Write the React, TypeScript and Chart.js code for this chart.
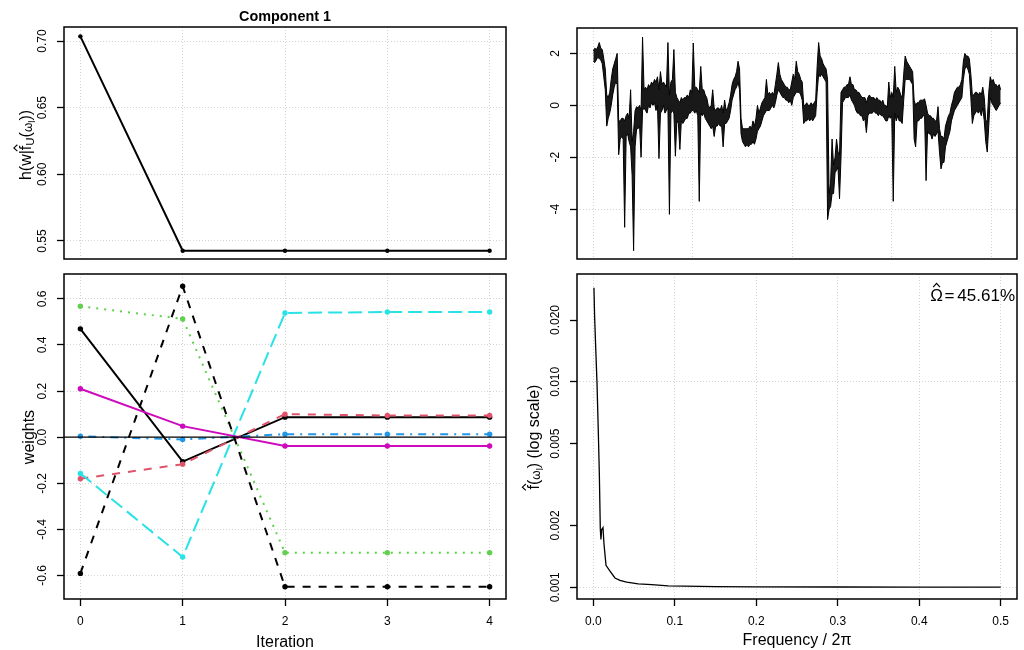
import React, { useEffect, useRef } from 'react';
import { Chart, registerables } from 'chart.js';

Chart.register(...registerables);

const FONT = "'Liberation Sans', Arial, Helvetica, sans-serif";
const GRID = '#d3d3d3';
const W = 1024;
const H = 650;

// ---------- Top-left: criterion by iteration ----------
const iterations = [0, 1, 2, 3, 4];
const criterion = [0.7035, 0.5427, 0.5427, 0.5427, 0.5427];
const criterionTicks = [0.55, 0.6, 0.65, 0.7];

// ---------- Bottom-left: weights by iteration ----------
const weightSeries = [
  [0.47, -0.106, 0.087, 0.087, 0.087],
  [-0.18, -0.117, 0.1, 0.094, 0.094],
  [0.568, 0.513, -0.501, -0.501, -0.501],
  [0.004, -0.01, 0.013, 0.013, 0.013],
  [-0.157, -0.52, 0.539, 0.543, 0.543],
  [0.21, 0.048, -0.038, -0.038, -0.038],
  [-0.591, 0.655, -0.649, -0.649, -0.649],
];
const weightColors = ['#000000', '#DF536B', '#61D04F', '#2297E6', '#28E2E5', '#CD0BBC', '#000000'];
const weightDashes = [[], [8, 8], [2, 6], [2, 6, 8, 6], [14, 6], [], [8, 8]];
const weightTicks = [-0.6, -0.4, -0.2, 0, 0.2, 0.4, 0.6];

// ---------- Top-right: time series, upper / lower envelope every 15 steps ----------
const tsStep = 15;
const tsHigh = [
  2.1, 2.2, 2.15, 2.25, 2.42, 2.2, 2.15, 1.8, 1.4, 0.4,
  0.3, 0.5, 1.0, 1.4, 1.6, 1.8, 2.0, -0.6, -0.6, -0.5,
  -0.5, -0.6, -0.4, -0.3, -0.5, 0.6, -1.4, -1.0, -0.2, -0.05,
  -0.1, 0.0, -0.2, 2.63, 0.6, 0.7, 0.6, 0.8, 0.7, 0.9,
  0.8, 1.0, 0.9, 1.1, 0.6, 1.3, 0.8, 0.9, 0.8, 0.7,
  2.42, 0.4, 0.9, 1.0, 2.15, 0.5, 0.3, 0.2, 0.1, 0.3,
  0.2, 0.3, 0.3, 0.4, 0.3, 0.6, 0.5, 2.4, 0.7, 0.7,
  0.6, 0.5, 1.5, 0.6, 0.6, 0.4, 0.3, 0.0, -0.1, 0.0,
  0.6, -0.1, -0.2, -0.1, -0.1, -0.2, 0.0, -0.3, 0.2, -0.2,
  -0.1, 0.1, 0.4, 0.8, 1.0, 1.1, 1.3, 1.7, 1.4, -0.5,
  -0.9, -0.9, -0.9, -0.9, -0.9, -0.8, -0.9, -0.6, -0.8, -0.5,
  0.0, -0.3, -0.1, 0.1, 0.2, 0.3, 1.0, 0.4, 0.5, 0.4,
  0.5, 0.4, 0.8, 1.2, 1.65, 1.2, 1.0, 0.9, 0.8, 0.7,
  0.7, 0.6, 0.6, 0.9, 1.2, 1.0, 1.7, 1.3, 1.2, 1.0,
  0.9, 0.0, 0.0, 0.1, 0.0, 0.0, 0.1, 0.0, 0.1, 0.2,
  1.5, 2.42, 1.9, 1.8, 1.6, 1.5, 1.4, 1.0, -3.4, -3.0,
  -1.3, -2.3, -2.0, -1.3, -1.8, -1.9, 0.5, 0.6, 0.7, 0.7,
  0.8, 0.8, 1.1, 0.8, 0.8, 0.6, 0.6, 0.5, 0.5, 0.4,
  0.3, 0.3, 0.3, 0.1, 0.3, 0.4, 0.3, 0.3, 0.3, 0.2,
  0.3, 0.2, 0.2, 0.1, 0.2, 0.0, 0.0, -0.1, 0.9, 0.3,
  0.5, 0.3, 1.5, 0.5, 0.7, 0.6, 0.4, 0.3, 1.2, 1.9,
  1.7, 1.6, 1.5, 1.4, 1.3, 0.2, 0.0, 0.1, 0.1, 0.2,
  0.2, 0.2, 0.25, 0.0, -0.3, -0.4, -0.4, -0.5, -0.5, -0.6,
  -0.6, -0.05, -0.9, -1.2, -1.2, -1.3, -0.8, -0.6, -0.4, -0.3,
  0.0, 0.2, 0.5, 0.6, 0.7, 0.7, 0.8, 1.0, 1.7, 2.0,
  1.9, 1.9, 1.8, 1.2, 0.4, 0.4, 0.5, 0.5, 0.4, 0.5,
  0.4, 0.7, 0.3, -0.6, -0.6, 0.5, 1.1, 0.9, 1.0, 0.8,
  0.8, 0.7, 0.8, 0.6,
];
const tsLow = [
  1.7, 1.65, 1.75, 1.85, 1.8, 1.75, 1.6, 1.1, 0.6, -0.8,
  -0.5, -0.3, 0.0, 0.4, 0.7, 0.9, 0.8, -1.9, -1.3, -1.2,
  -1.3, -4.7, -1.2, -1.1, -1.4, -1.6, -2.7, -5.6, -1.6, -0.9,
  -0.9, -0.8, -2.0, -0.2, -0.1, -0.2, -0.3, 0.0, -0.1, 0.1,
  0.0, 0.1, -0.2, 0.0, -2.05, -0.3, -0.2, 0.0, -0.3, -0.2,
  -0.1, -4.2, -0.3, -0.2, -0.3, -1.96, -0.6, -0.7, -1.7, -0.6,
  -0.7, -0.6, -0.5, -0.5, -0.3, -0.3, -0.2, -0.2, -0.3, -0.2,
  -0.4, -3.7, -0.3, -0.4, -0.3, -0.5, -0.6, -0.7, -0.8, -0.9,
  -0.8, -1.2, -0.8, -0.8, -0.7, -0.8, -0.8, -1.6, -0.7, -0.7,
  -0.6, -0.5, -0.2, 0.2, 0.4, 0.6, 0.7, 0.9, 0.6, -1.1,
  -1.4, -1.5, -1.6, -1.5, -1.6, -1.5, -1.5, -1.4, -1.5, -1.3,
  -1.0, -0.9, -0.8, -0.6, -0.4, -0.3, -0.2, -0.2, -0.2, -0.1,
  0.0, -0.1, 0.1, 0.4, 0.6, 0.5, 0.4, 0.3, 0.3, 0.2,
  0.2, 0.1, 0.2, 0.0, 0.3, 0.4, 0.5, 0.5, 0.5, 0.4,
  0.2, -0.7, -0.6, -0.6, -0.5, -0.6, -0.5, -0.6, -0.5, -0.4,
  0.5, 1.2, 1.1, 1.2, 1.1, 1.0, 0.9, -4.4, -4.0, -3.9,
  -3.4, -3.4, -2.6, -2.5, -2.4, -3.6, -2.0, 0.1, 0.2, 0.3,
  0.3, 0.3, 0.4, 0.2, 0.1, 0.0, -0.2, -0.3, -0.3, -0.4,
  -0.4, -0.6, -0.5, -1.05, -0.4, -0.3, -0.3, -0.3, -0.2, -0.3,
  -0.3, -0.4, -0.3, -0.4, -0.4, -0.5, -0.6, -0.6, -0.4, -0.5,
  -0.4, -3.7, -0.3, -0.6, -0.4, -0.6, -0.6, -0.7, 0.2, 1.0,
  1.0, 1.0, 1.0, 0.9, 0.8, -1.3, -1.6, -0.6, -0.6, -0.5,
  -0.5, -0.4, -0.4, -2.9, -1.0, -1.1, -1.1, -1.3, -1.1, -1.2,
  -1.1, -1.0, -1.8, -2.45, -2.2, -2.2, -1.6, -1.4, -1.2, -1.0,
  -0.6, -0.4, -0.2, -0.1, 0.0, 0.1, 0.2, 0.3, 1.0, 1.4,
  1.5, 1.4, 1.2, 0.3, -0.7, -0.4, -0.3, -0.2, -0.3, -0.2,
  -0.4, -0.1, -0.6, -1.4, -1.8, -0.8, 0.3, 0.1, 0.0, -0.1,
  -0.2, -0.1, 0.0, 0.1,
];
const tsTicksX = [0, 1000, 2000, 3000, 4000];
const tsTicksY = [-4, -2, 0, 2];

// ---------- Bottom-right: spectrum (log scale) ----------
const specFreq = [0.0008, 0.0016, 0.0029, 0.0045, 0.0061, 0.0074, 0.0086, 0.0094, 0.0102, 0.0119, 0.0131, 0.0156, 0.0205, 0.0266, 0.0327, 0.0409, 0.0552, 0.0716, 0.092, 0.15, 0.2, 0.3, 0.4, 0.5];
const specValue = [0.0287, 0.0209, 0.0149, 0.01, 0.00583, 0.00359, 0.00193, 0.00171, 0.0019, 0.00195, 0.00163, 0.00128, 0.0012, 0.00111, 0.00108, 0.00106, 0.00104, 0.00103, 0.001017, 0.001008, 0.001005, 0.001003, 0.001002, 0.001002];
const specTicksX = [0, 0.1, 0.2, 0.3, 0.4, 0.5];
const specTicksY = [0.001, 0.002, 0.005, 0.01, 0.02];
const specGridY = [0.001, 0.01];
const omegaText = '45.61%';

// ---------- layout helpers ----------
type Box = { l: number; t: number; r: number; b: number };
const Y_W = 40;
const X_H = 40;
const boxTL: Box = { l: 64, t: 27, r: 506, b: 259 };
const boxBL: Box = { l: 64, t: 274, r: 506, b: 599 };
const boxTR: Box = { l: 577, t: 28, r: 1017, b: 259 };
const boxBR: Box = { l: 577, t: 274, r: 1017, b: 599 };

function pad(box: Box, hasX: boolean) {
  return { left: box.l - Y_W, top: box.t, right: W - box.r, bottom: H - box.b - (hasX ? X_H : 0) };
}

function labelPad(labels: string[]) {
  const c = document.createElement('canvas').getContext('2d')!;
  c.font = `12px ${FONT}`;
  const w = Math.max(...labels.map((l) => c.measureText(l).width));
  return 14 - w / 2;
}

function xAxis(min: number, max: number, ticks: number[], fmt: (v: number) => string, show: boolean, type = 'linear') {
  return {
    type, min, max, bounds: 'data',
    afterBuildTicks: (s: any) => { s.ticks = ticks.map((v) => ({ value: v })); },
    afterFit: (s: any) => { s.height = show ? X_H : 0; },
    ticks: { display: show, callback: (v: any) => fmt(Number(v)), maxRotation: 0, minRotation: 0, padding: 8, font: { family: FONT, size: 12 }, color: '#000', autoSkip: false },
    grid: { color: GRID, lineWidth: 1, drawTicks: show, tickLength: 7, tickColor: '#000', tickWidth: 1.3, tickBorderDash: [] },
    border: { display: false, dash: [1, 2] },
  };
}

function yAxis(min: number, max: number, ticks: number[], fmt: (v: number) => string, type = 'linear', gridAt?: number[]) {
  const labels = ticks.map(fmt);
  return {
    type, min, max, bounds: 'data',
    afterBuildTicks: (s: any) => { s.ticks = ticks.map((v) => ({ value: v })); },
    afterFit: (s: any) => { s.width = Y_W; },
    ticks: { callback: (v: any) => fmt(Number(v)), minRotation: 90, maxRotation: 90, crossAlign: 'center', padding: labelPad(labels), font: { family: FONT, size: 12 }, color: '#000', autoSkip: false },
    grid: {
      color: (ctx: any) => (!gridAt || gridAt.some((g) => Math.abs(g - ctx.tick?.value) < 1e-9) ? GRID : 'rgba(0,0,0,0)'),
      lineWidth: 1, drawTicks: true, tickLength: 7, tickColor: '#000', tickWidth: 1.3, tickBorderDash: [],
    },
    border: { display: false, dash: [1, 2] },
  };
}

// ---------- text with simple math ----------
type Seg = { t: string; s?: number; dy?: number; hat?: boolean; gap?: number };
type Label = { segs: Seg[]; x: number; y: number; rot?: number; size: number; align?: 'left' | 'center' | 'right'; bold?: boolean };

function drawMath(ctx: CanvasRenderingContext2D, L: Label) {
  ctx.save();
  ctx.translate(L.x, L.y);
  if (L.rot) ctx.rotate(L.rot);
  ctx.fillStyle = '#000';
  ctx.strokeStyle = '#000';
  ctx.setLineDash([]);
  ctx.textBaseline = 'alphabetic';
  ctx.textAlign = 'left';
  const fontFor = (sg: Seg) => `${L.bold ? 'bold ' : ''}${(sg.s ?? 1) * L.size}px ${FONT}`;
  const widths = L.segs.map((sg) => { ctx.font = fontFor(sg); return ctx.measureText(sg.t).width + (sg.gap ?? 0); });
  const total = widths.reduce((a, b) => a + b, 0);
  let x = L.align === 'left' ? 0 : L.align === 'right' ? -total : -total / 2;
  L.segs.forEach((sg, i) => {
    ctx.font = fontFor(sg);
    const dy = sg.dy ?? 0;
    ctx.fillText(sg.t, x, dy);
    if (sg.hat) {
      const size = (sg.s ?? 1) * L.size;
      const w = ctx.measureText(sg.t).width;
      const cx = x + w / 2;
      const base = dy - size * 0.82;
      const hw = size * 0.2;
      const hh = size * 0.22;
      ctx.lineWidth = Math.max(1, size * 0.07);
      ctx.beginPath();
      ctx.moveTo(cx - hw, base);
      ctx.lineTo(cx, base - hh);
      ctx.lineTo(cx + hw, base);
      ctx.stroke();
    }
    x += widths[i];
  });
  ctx.restore();
}

const framePlugin = {
  id: 'frame',
  afterDraw(chart: any) {
    const { ctx, chartArea: a } = chart;
    ctx.save();
    ctx.setLineDash([]);
    ctx.strokeStyle = '#000';
    ctx.lineWidth = 1.5;
    ctx.strokeRect(a.left, a.top, a.right - a.left, a.bottom - a.top);
    ctx.restore();
  },
};

function labelsPlugin(labels: Label[]) {
  return {
    id: 'labels',
    afterDraw(chart: any) {
      labels.forEach((L) => drawMath(chart.ctx, L));
    },
  };
}

const zeroLinePlugin = {
  id: 'zeroLine',
  afterDatasetsDraw(chart: any) {
    const { ctx, chartArea: a, scales } = chart;
    const y = scales.y.getPixelForValue(0);
    ctx.save();
    ctx.setLineDash([]);
    ctx.strokeStyle = '#000';
    ctx.lineWidth = 1.3;
    ctx.beginPath();
    ctx.moveTo(a.left, y);
    ctx.lineTo(a.right, y);
    ctx.stroke();
    ctx.restore();
  },
};

const baseOptions = (padding: any, scales: any) => ({
  responsive: false,
  animation: false,
  events: [],
  layout: { padding },
  plugins: { legend: { display: false }, tooltip: { enabled: false }, title: { display: false } },
  elements: { line: { tension: 0 } },
  scales,
});

const fmtInt = (v: number) => String(Math.round(v));

function cfgTL(): any {
  return {
    type: 'line',
    data: {
      datasets: [{
        data: iterations.map((x, i) => ({ x, y: criterion[i] })),
        borderColor: '#000', backgroundColor: '#000', borderWidth: 2,
        pointRadius: 2.2, pointBorderWidth: 0, pointBackgroundColor: '#000',
      }],
    },
    options: baseOptions(pad(boxTL, false), {
      x: xAxis(-0.16, 4.16, iterations, fmtInt, false),
      y: yAxis(0.5365, 0.7105, criterionTicks, (v) => v.toFixed(2)),
    }),
    plugins: [framePlugin, labelsPlugin([
      { segs: [{ t: 'Component 1' }], x: 285, y: 20.5, size: 14.4, bold: true },
      {
        segs: [
          { t: 'h(w|' }, { t: 'f', hat: true }, { t: 'U', s: 0.72, dy: 3.5 },
          { t: '(' }, { t: 'ω', s: 0.75, dy: 1 }, { t: 'l', s: 0.6, dy: 4 }, { t: '))' },
        ],
        x: 30.5, y: 145, rot: -Math.PI / 2, size: 16,
      },
    ])],
  };
}

function cfgBL(): any {
  return {
    type: 'line',
    data: {
      datasets: weightSeries.map((s, i) => ({
        data: iterations.map((x, j) => ({ x, y: s[j] })),
        borderColor: weightColors[i], backgroundColor: weightColors[i], borderWidth: 2,
        borderDash: weightDashes[i], borderCapStyle: 'butt',
        pointRadius: 2.7, pointBorderWidth: 0, pointBackgroundColor: weightColors[i],
        order: -i,
      })),
    },
    options: baseOptions(pad(boxBL, true), {
      x: xAxis(-0.16, 4.16, iterations, fmtInt, true),
      y: yAxis(-0.702, 0.708, weightTicks, (v) => v.toFixed(1)),
    }),
    plugins: [zeroLinePlugin, framePlugin, labelsPlugin([
      { segs: [{ t: 'weights' }], x: 34, y: 437, rot: -Math.PI / 2, size: 16 },
      { segs: [{ t: 'Iteration' }], x: 285, y: 647, size: 16 },
    ])],
  };
}

function cfgTR(): any {
  return {
    type: 'line',
    data: {
      datasets: [
        {
          data: tsHigh.map((v, i) => ({ x: i * tsStep, y: v })),
          borderColor: '#000', borderWidth: 1, pointRadius: 0, fill: false,
        },
        {
          data: tsLow.map((v, i) => ({ x: i * tsStep, y: v })),
          borderColor: '#000', borderWidth: 1, pointRadius: 0, fill: '-1', backgroundColor: 'rgba(0,0,0,0.9)',
        },
      ],
    },
    options: baseOptions(pad(boxTR, false), {
      x: xAxis(-164, 4259, tsTicksX, fmtInt, false),
      y: yAxis(-5.92, 2.98, tsTicksY, fmtInt),
    }),
    plugins: [framePlugin],
  };
}

function cfgBR(): any {
  return {
    type: 'line',
    data: {
      datasets: [{
        data: specFreq.map((x, i) => ({ x, y: specValue[i] })),
        borderColor: '#000', borderWidth: 1.3, pointRadius: 0,
      }],
    },
    options: baseOptions(pad(boxBR, true), {
      x: xAxis(-0.02, 0.52, specTicksX, (v) => v.toFixed(1), true),
      y: yAxis(0.000877, 0.0335, specTicksY, (v) => v.toFixed(3), 'logarithmic', specGridY),
    }),
    plugins: [framePlugin, labelsPlugin([
      {
        segs: [
          { t: 'f', hat: true }, { t: '(' }, { t: 'ω', s: 0.75, dy: 1 }, { t: 'l', s: 0.6, dy: 4 }, { t: ')' }, { t: ' (log scale)' },
        ],
        x: 539, y: 437, rot: -Math.PI / 2, size: 16,
      },
      { segs: [{ t: 'Frequency / 2π' }], x: 797, y: 645, size: 16 },
      { segs: [{ t: 'Ω', hat: true, gap: 1.5 }, { t: '=', gap: 3 }, { t: omegaText }], x: 1015, y: 301, size: 17, align: 'right' },
    ])],
  };
}

export default function App() {
  const r1 = useRef<HTMLCanvasElement>(null);
  const r2 = useRef<HTMLCanvasElement>(null);
  const r3 = useRef<HTMLCanvasElement>(null);
  const r4 = useRef<HTMLCanvasElement>(null);

  useEffect(() => {
    const charts = [
      new Chart(r1.current!, cfgTL()),
      new Chart(r2.current!, cfgBL()),
      new Chart(r3.current!, cfgTR()),
      new Chart(r4.current!, cfgBR()),
    ];
    return () => charts.forEach((c) => c.destroy());
  }, []);

  const refs = [r1, r2, r3, r4];
  return (
    <div style={{ position: 'absolute', left: 0, top: 0, width: W, height: H, background: '#fff', overflow: 'hidden' }}>
      {refs.map((r, i) => (
        <canvas key={i} ref={r} width={W} height={H} style={{ position: 'absolute', left: 0, top: 0, width: W, height: H }} />
      ))}
    </div>
  );
}
